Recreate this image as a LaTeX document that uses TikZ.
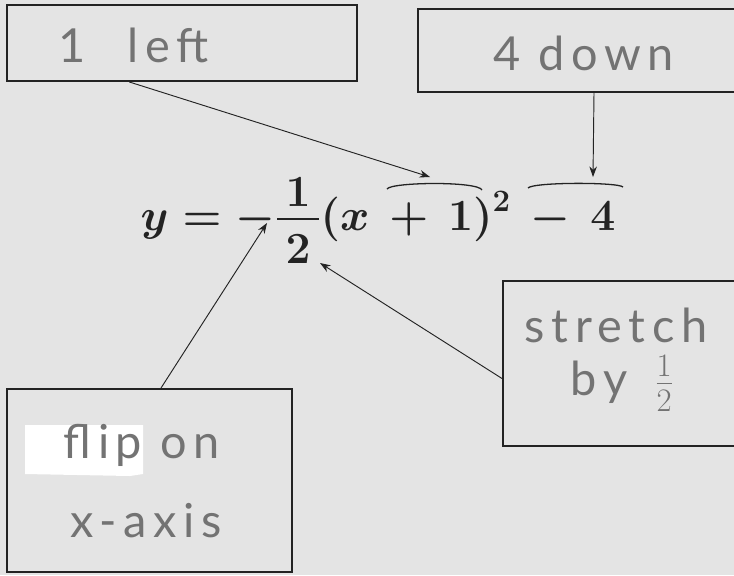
\RequirePackage{fix-cm}
\documentclass[tikz,border=0pt]{standalone}
\usepackage{fontspec}
\usepackage{amsmath}
\usetikzlibrary{arrows.meta,calc}
\newfontfamily\handfont[LetterSpace=14]{Lato}
\definecolor{paper}{RGB}{228,228,228}
\definecolor{pencil}{RGB}{115,115,115}
\definecolor{ink}{RGB}{35,35,35}
\tikzset{
  box/.style={draw=ink, line width=1.6pt, inner sep=0pt},
  hand/.style={font=\handfont\fontsize{40}{44}\selectfont, text=pencil, inner sep=0pt},
  eq/.style={font=\fontsize{38}{42}\selectfont\boldmath, text=ink, inner sep=0pt},
  link/.style={->, draw=ink, line width=0.8pt},
  tie/.style={draw=ink, line width=1.1pt}
}
\begin{document}
\begin{tikzpicture}[x=0.03cm, y=-0.03cm, >={Stealth[length=9pt,width=6.5pt]}]
  \useasboundingbox[fill=paper] (0,0) rectangle (734,575);
  % the four boxes
  \node[box, minimum width=10.5cm, minimum height=2.28cm] (leftbox) at (182,43) {};
  \node[box, minimum width=10.56cm, minimum height=2.49cm] (downbox) at (594,50.5) {};
  \node[box, minimum width=7.86cm, minimum height=4.95cm] (strbox) at (634,363.5) {};
  \node[box, minimum width=8.55cm, minimum height=5.49cm] (flipbox) at (149.5,480.5) {};
  \fill[white] (25,425) -- (143,425) -- (143,474) -- (130,476) -- (25,474) -- cycle;
  % handwritten notes
  \node[hand, anchor=base west] (lefttxt) at (58,62) {1\hspace{0.9em}left};
  \node[hand, anchor=base west] (downtxt) at (493,70) {4 down};
  \node[hand, anchor=base] (strtxt) at (616,342) {stretch};
  \node[hand, anchor=base] (bytxt) at (622,395) {by\hspace{0.6em}\(\frac{1}{2}\)};
  \node[hand, anchor=base] (fliptxt) at (142,458) {flip on};
  \node[hand, anchor=base] (axistxt) at (146,537) {x-axis};
  % equation
  \node[eq, anchor=base] (eqn) at (378,230)
    {$\displaystyle y=-\genfrac{}{}{2.2pt}{0}{\lower8pt\hbox{$\mkern3mu 1\mkern3mu$}}{\mkern3mu 2\mkern3mu}(x\,+\,1)^2\,-\,4$};
  \draw[tie] (387,189) .. controls (391,182) and (478,181) .. (482,190);
  \draw[tie] (528,188) .. controls (533,182) and (618,182) .. (623,187);
  % arrows
  \coordinate (plusone) at (430,177);
  \coordinate (minusfour) at (593,177);
  \coordinate (negsign) at (267,223);
  \coordinate (denom) at (320,263);
  \draw[link] ($(leftbox.south west)!0.35!(leftbox.south east)$) -- (plusone);
  \draw[link] (downbox.south) -- (minusfour);
  \draw[link] ($(flipbox.north west)!0.54!(flipbox.north east)$) -- (negsign);
  \draw[link] ($(strbox.north west)!0.59!(strbox.south west)$) -- (denom);
\end{tikzpicture}
\end{document}
